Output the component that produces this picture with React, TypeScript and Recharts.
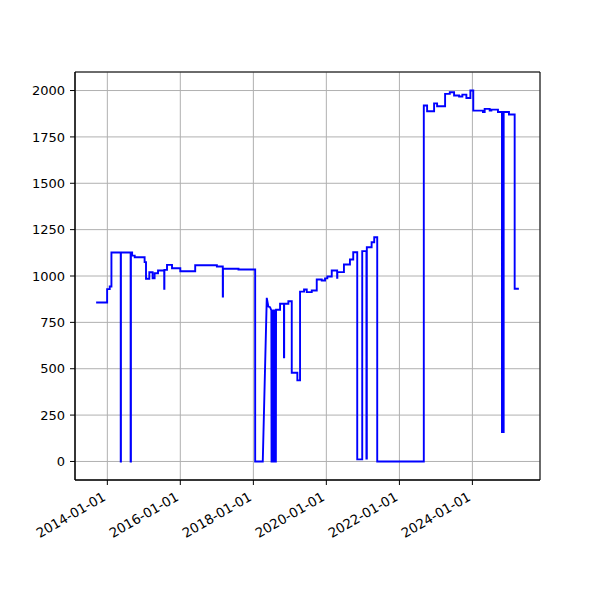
import React from "react";
import { LineChart, Line, XAxis, YAxis, CartesianGrid, ReferenceArea } from "recharts";

const dates: string[] = [
  "2013-09-11", "2013-12-30", "2013-12-30", "2014-01-25", "2014-01-25", "2014-02-11", "2014-02-11",
  "2014-05-15", "2014-05-15", "2014-05-17", "2014-05-17", "2014-08-22", "2014-08-22", "2014-08-25", "2014-08-25",
  "2014-09-06", "2014-09-06", "2014-10-02", "2014-10-02", "2015-01-09", "2015-01-09", "2015-01-23", "2015-01-23",
  "2015-02-25", "2015-02-25", "2015-03-30", "2015-03-30", "2015-04-19", "2015-04-19", "2015-05-23", "2015-05-23",
  "2015-07-24", "2015-07-24", "2015-07-26", "2015-07-26", "2015-08-21", "2015-08-21", "2015-10-10", "2015-10-10",
  "2016-01-01", "2016-01-01", "2016-05-29", "2016-05-29", "2017-01-01", "2017-01-01", "2017-03-01", "2017-03-01",
  "2017-03-03", "2017-03-03", "2017-08-05", "2017-08-05", "2018-01-19", "2018-01-19", "2018-04-05", "2018-05-15",
  "2018-05-31", "2018-06-17", "2018-06-30", "2018-07-02", "2018-07-16", "2018-07-18", "2018-07-30", "2018-08-01",
  "2018-08-14", "2018-08-16", "2018-09-25", "2018-09-25", "2018-11-03", "2018-11-03", "2018-11-05", "2018-11-05",
  "2018-12-17", "2018-12-17", "2019-01-20", "2019-01-20", "2019-03-17", "2019-03-17", "2019-04-13", "2019-04-13",
  "2019-05-23", "2019-05-23", "2019-06-19", "2019-06-19", "2019-08-08", "2019-08-08", "2019-09-27", "2019-09-27",
  "2019-11-16", "2019-11-16", "2019-12-19", "2019-12-19", "2020-01-11", "2020-01-11", "2020-02-24", "2020-02-24",
  "2020-04-18", "2020-04-18", "2020-04-20", "2020-04-20", "2020-06-25", "2020-06-25", "2020-08-24", "2020-08-24",
  "2020-09-26", "2020-09-26", "2020-11-05", "2020-11-05", "2020-12-25", "2020-12-25", "2021-02-05", "2021-02-05",
  "2021-02-09", "2021-02-09", "2021-03-29", "2021-03-29", "2021-04-24", "2021-04-24", "2021-05-24", "2021-05-24",
  "2022-09-02", "2022-09-02", "2022-10-05", "2022-10-05", "2022-12-14", "2022-12-14", "2023-01-13", "2023-01-13",
  "2023-04-03", "2023-04-03", "2023-05-20", "2023-05-20", "2023-07-02", "2023-07-02", "2023-08-21", "2023-08-21",
  "2023-09-23", "2023-09-23", "2023-11-02", "2023-11-02", "2023-12-12", "2023-12-12", "2024-01-10", "2024-01-10",
  "2024-04-16", "2024-04-16", "2024-05-03", "2024-05-03", "2024-06-22", "2024-06-22", "2024-07-09", "2024-07-09",
  "2024-09-13", "2024-09-13", "2024-10-23", "2024-10-23", "2024-11-09", "2024-11-09", "2025-01-01", "2025-01-01",
  "2025-02-27", "2025-02-27", "2025-04-10",
];

const values: number[] = [
  857, 857, 929, 929, 943, 943, 1127,
  1127, 0, 0, 1127, 1127, 0, 0, 1127,
  1127, 1110, 1110, 1101, 1101, 1075, 1075, 985,
  985, 1020, 1020, 988, 988, 1015, 1015, 1030,
  1030, 931, 931, 1033, 1033, 1060, 1060, 1042,
  1042, 1026, 1026, 1058, 1058, 1051, 1051, 889,
  889, 1039, 1039, 1035, 1035, 0, 0, 882,
  835, 832, 814, 0, 0, 814, 814, 0,
  0, 818, 818, 850, 850, 562, 562, 850,
  850, 864, 864, 478, 478, 437, 437, 916,
  916, 927, 927, 913, 913, 922, 922, 981,
  981, 976, 976, 987, 987, 997, 997, 1030,
  1030, 990, 990, 1021, 1021, 1062, 1062, 1089,
  1089, 1128, 1128, 11, 11, 1134, 1134, 16,
  16, 1155, 1155, 1182, 1182, 1209, 1209, 0,
  0, 1919, 1919, 1888, 1888, 1931, 1931, 1915,
  1915, 1982, 1982, 1991, 1991, 1973, 1973, 1968,
  1968, 1978, 1978, 1960, 1960, 2000, 2000, 1892,
  1892, 1884, 1884, 1901, 1901, 1892, 1892, 1897,
  1897, 1884, 1884, 158, 158, 1884, 1884, 1871,
  1871, 931, 931,
];

const xTickLabels: string[] = ["2014-01-01", "2016-01-01", "2018-01-01", "2020-01-01", "2022-01-01", "2024-01-01"];
const yTicks: number[] = [0, 250, 500, 750, 1000, 1250, 1500, 1750, 2000];

const data = dates.map((d, i) => ({ t: Date.parse(d), v: values[i] }));
const xTicks = xTickLabels.map((d) => Date.parse(d));
const tMin = Math.min(...data.map((p) => p.t));
const tMax = Math.max(...data.map((p) => p.t));
const tPad = (tMax - tMin) * 0.05;
const xDomain: [number, number] = [tMin - tPad, tMax + tPad];
const yDomain: [number, number] = [-100, 2100];

const FONT = "DejaVu Sans";

const fmt = (t: number) => new Date(t).toISOString().slice(0, 10);

const XTick = (props: any) => {
  const { x, y, payload } = props;
  return (
    <g transform={`translate(${x - 0.7},${y + 12.5}) rotate(-30)`}>
      <text x={0} y={0} textAnchor="end" fontFamily={FONT} fontSize={13.3} fill="#000">
        {fmt(payload.value)}
      </text>
    </g>
  );
};

export default function App() {
  return (
    <div style={{ position: "absolute", left: 0, top: 0, width: 600, height: 600, background: "#fff" }}>
      <LineChart width={600} height={600} data={data} margin={{ top: 72, right: 60, bottom: 60, left: 0 }}>
        <CartesianGrid stroke="#b0b0b0" strokeWidth={1} />
        <XAxis
          dataKey="t"
          type="number"
          domain={xDomain}
          ticks={xTicks}
          allowDataOverflow
          height={60}
          tickSize={5}
          tickMargin={2}
          interval={0}
          stroke="#000"
          tickLine={{ stroke: "#000" }}
          axisLine={{ stroke: "#000" }}
          tick={<XTick />}
        />
        <YAxis
          type="number"
          domain={yDomain}
          ticks={yTicks}
          allowDataOverflow
          width={75}
          tickSize={5}
          tickMargin={5}
          interval={0}
          stroke="#000"
          tickLine={{ stroke: "#000" }}
          axisLine={{ stroke: "#000" }}
          tick={{ fill: "#000", fontSize: 13, fontFamily: FONT }}
        />
        <ReferenceArea x1={xDomain[0]} x2={xDomain[1]} y1={yDomain[0]} y2={yDomain[1]} fill="none" stroke="#000" strokeWidth={1} fillOpacity={0} />
        <Line
          type="linear"
          dataKey="v"
          stroke="#0000ff"
          strokeWidth={1.9}
          dot={false}
          activeDot={false}
          isAnimationActive={false}
        />
      </LineChart>
    </div>
  );
}
